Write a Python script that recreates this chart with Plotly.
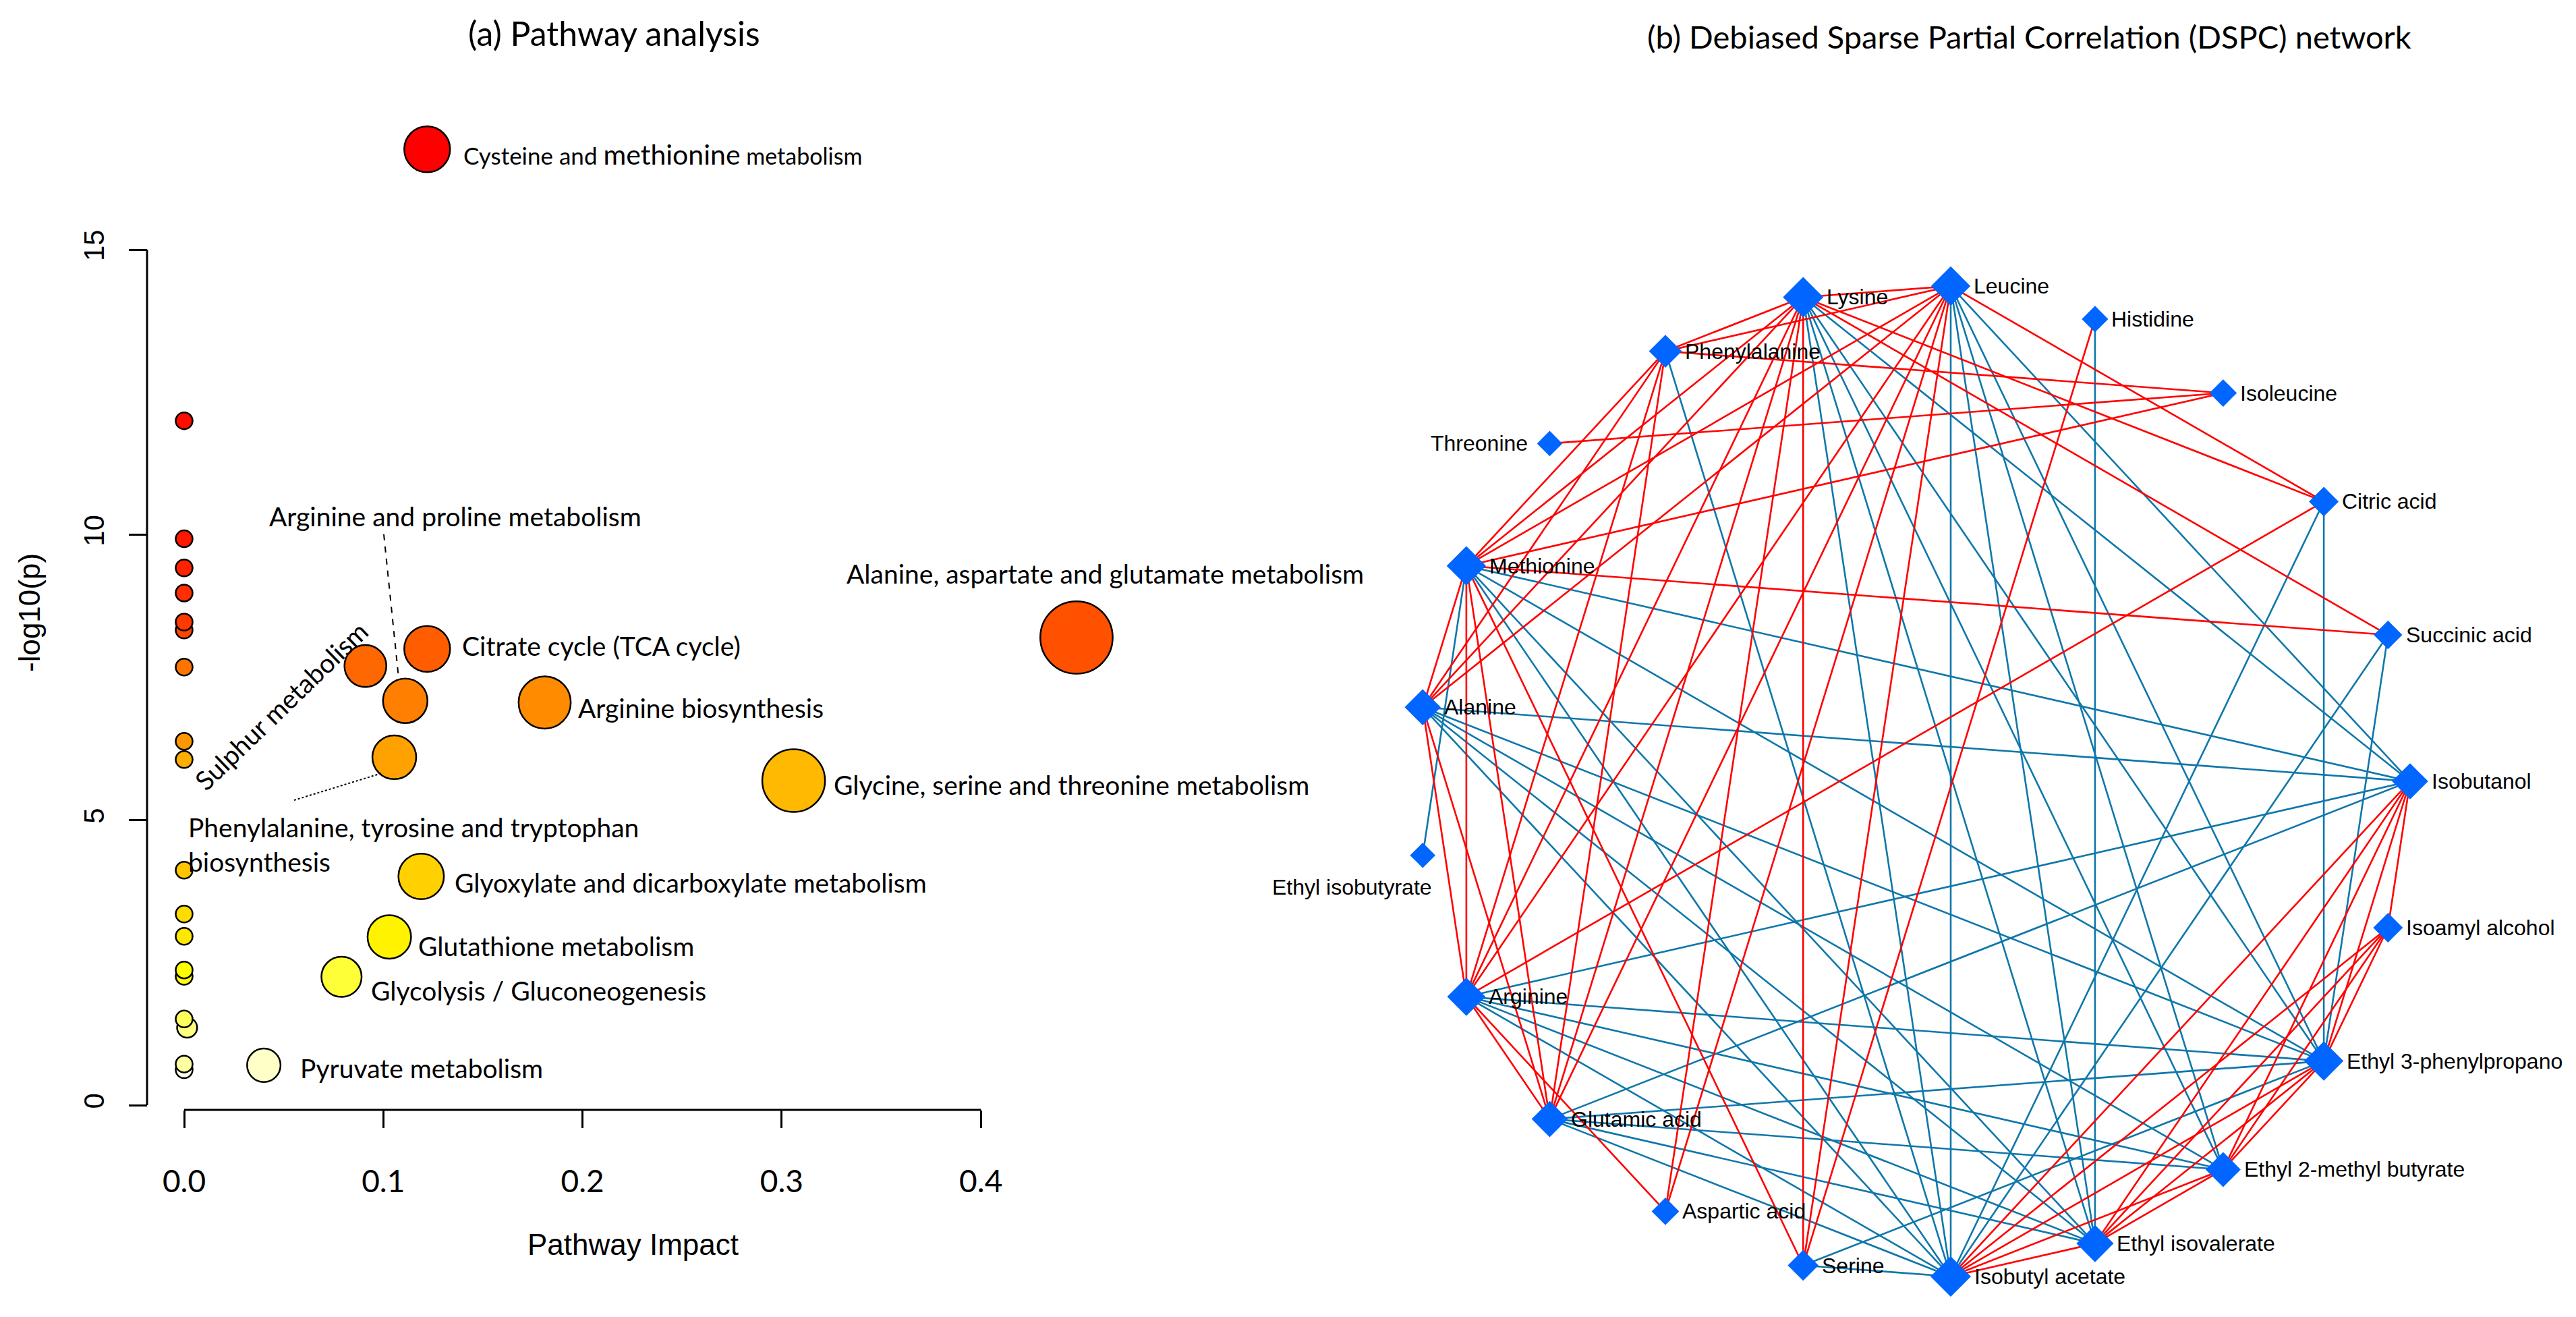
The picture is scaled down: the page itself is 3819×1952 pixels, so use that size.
import numpy as np
import plotly.graph_objects as go

W, H = 3819, 1952

# ---------------- (a) Pathway analysis : data ----------------
pathway = ["Cysteine and methionine metabolism", "", "", "", "", "", "",
           "Alanine, aspartate and glutamate metabolism", "Citrate cycle (TCA cycle)",
           "Sulphur metabolism", "", "Arginine and proline metabolism", "Arginine biosynthesis",
           "", "Phenylalanine, tyrosine and tryptophan biosynthesis", "",
           "Glycine, serine and threonine metabolism", "",
           "Glyoxylate and dicarboxylate metabolism", "", "", "Glutathione metabolism",
           "", "", "Glycolysis / Gluconeogenesis", "", "", "", "Pyruvate metabolism", ""]
impact = [0.122, 0.0, 0.0, 0.0, 0.0, 0.0, 0.0, 0.448, 0.122, 0.091, 0.0, 0.111, 0.181,
          0.0, 0.1055, 0.0, 0.306, 0.0, 0.119, 0.0, 0.0, 0.103, 0.0, 0.0, 0.079,
          0.0, 0.0015, 0.0, 0.040, 0.0]
neglogp = [16.76, 12.0, 9.93, 9.42, 8.98, 8.47, 8.33, 8.20, 8.00, 7.70, 7.68, 7.09, 7.06,
           6.38, 6.10, 6.06, 5.69, 4.12, 4.01, 3.35, 2.96, 2.95, 2.37, 2.26, 2.25,
           1.51, 1.36, 0.72, 0.70, 0.62]
x_tickvals = [0.0, 0.1, 0.2, 0.3, 0.4]
x_ticktext = ["0.0", "0.1", "0.2", "0.3", "0.4"]
y_tickvals = [0, 5, 10, 15]

# ---------------- (b) DSPC network : data ----------------
nodes = ["Isobutanol", "Succinic acid", "Citric acid", "Isoleucine", "Histidine", "Leucine",
         "Lysine", "Phenylalanine", "Threonine", "Methionine", "Alanine", "Ethyl isobutyrate",
         "Arginine", "Glutamic acid", "Aspartic acid", "Serine", "Isobutyl acetate",
         "Ethyl isovalerate", "Ethyl 2-methyl butyrate", "Ethyl 3-phenylpropano",
         "Isoamyl alcohol"]

positive_edges = [
    ("Isobutanol", "Isoamyl alcohol"), ("Isobutanol", "Ethyl 3-phenylpropano"),
    ("Isobutanol", "Ethyl 2-methyl butyrate"), ("Isobutanol", "Ethyl isovalerate"),
    ("Isobutanol", "Isobutyl acetate"),
    ("Isoamyl alcohol", "Ethyl 3-phenylpropano"), ("Isoamyl alcohol", "Ethyl 2-methyl butyrate"),
    ("Isoamyl alcohol", "Ethyl isovalerate"), ("Isoamyl alcohol", "Isobutyl acetate"),
    ("Ethyl 3-phenylpropano", "Ethyl 2-methyl butyrate"), ("Ethyl 3-phenylpropano", "Ethyl isovalerate"),
    ("Ethyl 3-phenylpropano", "Isobutyl acetate"),
    ("Ethyl 2-methyl butyrate", "Ethyl isovalerate"), ("Ethyl 2-methyl butyrate", "Isobutyl acetate"),
    ("Ethyl isovalerate", "Isobutyl acetate"),
    ("Leucine", "Lysine"), ("Leucine", "Phenylalanine"), ("Leucine", "Methionine"),
    ("Leucine", "Alanine"), ("Leucine", "Arginine"), ("Leucine", "Glutamic acid"),
    ("Lysine", "Phenylalanine"), ("Lysine", "Methionine"), ("Lysine", "Alanine"),
    ("Lysine", "Arginine"), ("Lysine", "Glutamic acid"),
    ("Phenylalanine", "Methionine"), ("Phenylalanine", "Alanine"), ("Phenylalanine", "Arginine"),
    ("Phenylalanine", "Glutamic acid"),
    ("Methionine", "Alanine"), ("Methionine", "Arginine"), ("Methionine", "Glutamic acid"),
    ("Alanine", "Arginine"), ("Alanine", "Glutamic acid"), ("Arginine", "Glutamic acid"),
    ("Isoleucine", "Phenylalanine"), ("Isoleucine", "Threonine"), ("Isoleucine", "Methionine"),
    ("Citric acid", "Leucine"), ("Citric acid", "Lysine"), ("Citric acid", "Arginine"),
    ("Succinic acid", "Lysine"), ("Succinic acid", "Methionine"),
    ("Histidine", "Serine"), ("Serine", "Lysine"), ("Serine", "Leucine"), ("Serine", "Methionine"),
    ("Aspartic acid", "Arginine"), ("Aspartic acid", "Leucine"), ("Aspartic acid", "Lysine"),
]

negative_edges = [
    ("Leucine", "Isobutyl acetate"), ("Leucine", "Ethyl isovalerate"),
    ("Leucine", "Ethyl 2-methyl butyrate"), ("Leucine", "Ethyl 3-phenylpropano"), ("Leucine", "Isobutanol"),
    ("Lysine", "Isobutyl acetate"), ("Lysine", "Ethyl isovalerate"),
    ("Lysine", "Ethyl 2-methyl butyrate"), ("Lysine", "Ethyl 3-phenylpropano"), ("Lysine", "Isobutanol"),
    ("Methionine", "Isobutanol"), ("Methionine", "Ethyl 3-phenylpropano"),
    ("Methionine", "Ethyl isovalerate"), ("Methionine", "Isobutyl acetate"),
    ("Methionine", "Ethyl isobutyrate"),
    ("Alanine", "Isobutanol"), ("Alanine", "Ethyl 3-phenylpropano"), ("Alanine", "Ethyl 2-methyl butyrate"),
    ("Alanine", "Ethyl isovalerate"), ("Alanine", "Isobutyl acetate"),
    ("Arginine", "Isobutanol"), ("Arginine", "Ethyl 3-phenylpropano"), ("Arginine", "Ethyl 2-methyl butyrate"),
    ("Arginine", "Ethyl isovalerate"), ("Arginine", "Isobutyl acetate"),
    ("Glutamic acid", "Isobutanol"), ("Glutamic acid", "Ethyl 3-phenylpropano"),
    ("Glutamic acid", "Ethyl 2-methyl butyrate"), ("Glutamic acid", "Ethyl isovalerate"),
    ("Glutamic acid", "Isobutyl acetate"),
    ("Phenylalanine", "Isobutyl acetate"),
    ("Serine", "Isobutyl acetate"), ("Serine", "Ethyl 3-phenylpropano"),
    ("Citric acid", "Ethyl 3-phenylpropano"), ("Citric acid", "Isobutyl acetate"),
    ("Succinic acid", "Ethyl 3-phenylpropano"), ("Succinic acid", "Isobutyl acetate"),
    ("Histidine", "Ethyl isovalerate"),
]

# ---------------- styling / geometry ----------------
LABEL_FONT = "Lato, Carlito, Calibri, sans-serif"
ARIAL = "Liberation Sans, Arial, sans-serif"
RED, BLUE, NODE = "#ff0000", "#0f77aa", "#0066ff"

# pixel frame of the pathway plot: x=0 at 273px, 2953 px per unit; y=0 at 1638px, 84.53 px per unit
X0_PX, X_PER = 273, 2953
Y0_PX, Y_PER = 1638, 84.53
YAXIS_LINE_X, XAXIS_LINE_Y = 218, 1645
XR = (-0.05, 0.55)
YR = (-0.5, 18.0)


def px(X):
    return X / W


def py(Y):
    return 1 - Y / H


fig = go.Figure()

# ---- pathway bubbles ----
n = len(neglogp)
order = np.argsort(-np.array(neglogp), kind="stable")
rank = np.empty(n, int)
rank[order] = np.arange(n)
j = n // 4
i_hue = n - j
sats = np.linspace(1 - 1 / (2 * j), 1 / (2 * j), j)


def heat_color(r):
    if r < i_hue:
        g = round(255 * r / (i_hue - 1))
        return f"rgb(255,{g},0)"
    s = sats[r - i_hue]
    return f"rgb(255,255,{round(255 * (1 - s))})"


colors = [heat_color(r) for r in rank]
diam = [25 + 123 * np.sqrt(v) for v in impact]

draw = list(order[::-1])  # draw low p first
fig.add_trace(go.Scatter(
    x=[impact[k] for k in draw], y=[neglogp[k] for k in draw], mode="markers",
    marker=dict(size=[diam[k] for k in draw], color=[colors[k] for k in draw],
                line=dict(color="black", width=2.5), opacity=1),
    cliponaxis=False, hoverinfo="skip", showlegend=False, xaxis="x", yaxis="y"))

# label placement (pixel offsets from the bubble centre)
label_place = {
    "Cysteine and methionine metabolism": dict(dx=52, dy=-7),
    "Citrate cycle (TCA cycle)": dict(dx=50, dy=5),
    "Arginine biosynthesis": dict(dx=48, dy=-8),
    "Alanine, aspartate and glutamate metabolism": dict(dx=-343, dy=95),
    "Glycine, serine and threonine metabolism": dict(dx=57, dy=-6),
    "Arginine and proline metabolism": dict(dx=-204, dy=274),
    "Sulphur metabolism": dict(dx=-125, dy=-59, angle=-44, anchor="center"),
    "Phenylalanine, tyrosine and tryptophan biosynthesis": dict(dx=-308, dy=-129),
    "Glyoxylate and dicarboxylate metabolism": dict(dx=48, dy=-9),
    "Glutathione metabolism": dict(dx=41, dy=-13),
    "Glycolysis / Gluconeogenesis": dict(dx=42, dy=-20),
    "Pyruvate metabolism": dict(dx=52, dy=-4),
}
annotations = []
for name, xv, yv in zip(pathway, impact, neglogp):
    if not name:
        continue
    p = label_place[name]
    text = name
    if name.startswith("Cysteine"):
        text = ("Cysteine and <span style='font-size:41px'>methionine</span>"
                "<span style='font-size:34px'> metabolism</span>")
    if name.startswith("Phenylalanine"):
        text = "Phenylalanine, tyrosine and tryptophan<br>biosynthesis"
    annotations.append(dict(
        x=xv, y=yv, xref="x", yref="y", text=text, showarrow=False,
        xanchor=p.get("anchor", "left"), yanchor="middle", align="left",
        xshift=p["dx"], yshift=p["dy"], textangle=p.get("angle", 0),
        font=dict(family=LABEL_FONT, size=35 if name.startswith("Cysteine") else 39, color="black")))

shapes = [
    # R-style axis lines spanning only the tick range
    dict(type="line", xref="x", yref="paper", x0=x_tickvals[0], x1=x_tickvals[-1],
         y0=py(XAXIS_LINE_Y), y1=py(XAXIS_LINE_Y), line=dict(color="black", width=3)),
    dict(type="line", xref="paper", yref="y", x0=px(YAXIS_LINE_X), x1=px(YAXIS_LINE_X),
         y0=y_tickvals[0], y1=y_tickvals[-1], line=dict(color="black", width=3)),
    # leader lines
    dict(type="line", xref="paper", yref="paper", x0=px(569), y0=py(792), x1=px(591), y1=py(1005),
         line=dict(color="black", width=2, dash="dash")),
    dict(type="line", xref="paper", yref="paper", x0=px(436), y0=py(1186), x1=px(566), y1=py(1146),
         line=dict(color="black", width=2, dash="dot")),
]

# titles and axis titles
annotations += [
    dict(x=px(910), y=py(49), xref="paper", yref="paper", text="(a) Pathway analysis",
         showarrow=False, font=dict(family=LABEL_FONT, size=50, color="black"),
         xanchor="center", yanchor="middle"),
    dict(x=px(3008), y=py(54), xref="paper", yref="paper",
         text="(b) Debiased Sparse Partial Correlation (DSPC) network",
         showarrow=False, font=dict(family=LABEL_FONT, size=47, color="black"),
         xanchor="center", yanchor="middle"),
    dict(x=px(938), y=py(1844), xref="paper", yref="paper", text="Pathway Impact",
         showarrow=False, font=dict(family=ARIAL, size=44, color="black"),
         xanchor="center", yanchor="middle"),
    dict(x=px(43), y=py(908), xref="paper", yref="paper", text="-log10(p)", textangle=-90,
         showarrow=False, font=dict(family=ARIAL, size=44, color="black"),
         xanchor="center", yanchor="middle"),
]

# ---- network ----
idx = {name: k for k, name in enumerate(nodes)}
theta = 2 * np.pi * np.arange(len(nodes)) / len(nodes)
nx, ny = np.cos(theta), np.sin(theta)

degree = np.zeros(len(nodes))
for a, b in positive_edges + negative_edges:
    degree[idx[a]] += 1
    degree[idx[b]] += 1


def edge_xy(edges):
    xs, ys = [], []
    for a, b in edges:
        xs += [nx[idx[a]], nx[idx[b]], None]
        ys += [ny[idx[a]], ny[idx[b]], None]
    return xs, ys


ex, ey = edge_xy(negative_edges)
fig.add_trace(go.Scatter(x=ex, y=ey, mode="lines", line=dict(color=BLUE, width=2.6),
                         hoverinfo="skip", showlegend=False, xaxis="x2", yaxis="y2"))
ex, ey = edge_xy(positive_edges)
fig.add_trace(go.Scatter(x=ex, y=ey, mode="lines", line=dict(color=RED, width=2.6),
                         hoverinfo="skip", showlegend=False, xaxis="x2", yaxis="y2"))

node_w = 36 + 1.6 * degree          # diamond width in px
fig.add_trace(go.Scatter(x=nx, y=ny, mode="markers",
                         marker=dict(symbol="diamond", size=node_w / 1.3, color=NODE,
                                     opacity=1, line=dict(width=0)),
                         hoverinfo="skip", showlegend=False, xaxis="x2", yaxis="y2", cliponaxis=False))

for k, name in enumerate(nodes):
    hw = node_w[k] / 2
    if name == "Threonine":
        a = dict(xanchor="right", xshift=-(hw + 12), yshift=0)
    elif name == "Ethyl isobutyrate":
        a = dict(xanchor="right", xshift=16, yshift=-47)
    else:
        a = dict(xanchor="left", xshift=hw + 3, yshift=0)
    annotations.append(dict(x=nx[k], y=ny[k], xref="x2", yref="y2", text=name, showarrow=False,
                            yanchor="middle", font=dict(family=ARIAL, size=32, color="black"), **a))

NET_CX, NET_CY, NET_R = 2837, 1158, 736
xd = (0.5, 1.0)

fig.update_layout(
    width=W, height=H, margin=dict(l=0, r=0, t=0, b=0, pad=0, autoexpand=False),
    paper_bgcolor="white", plot_bgcolor="white", showlegend=False,
    xaxis=dict(domain=[px(X0_PX + XR[0] * X_PER), px(X0_PX + XR[1] * X_PER)], range=list(XR),
               tickvals=x_tickvals, ticktext=x_ticktext, ticks="outside", ticklen=26, tickwidth=3,
               tickcolor="black", showline=False, showgrid=False, zeroline=False,
               anchor="free", position=py(XAXIS_LINE_Y), ticklabelstandoff=40,
               tickfont=dict(family=LABEL_FONT, size=46, color="black")),
    yaxis=dict(domain=[py(Y0_PX - YR[0] * Y_PER), py(Y0_PX - YR[1] * Y_PER)], range=list(YR),
               tickvals=y_tickvals, ticks="outside", ticklen=27, tickwidth=3, tickcolor="black",
               showline=False, showgrid=False, zeroline=False,
               anchor="free", position=px(YAXIS_LINE_X), tickangle=-90, ticklabelstandoff=20,
               tickfont=dict(family=ARIAL, size=42, color="black")),
    xaxis2=dict(domain=list(xd), range=[-(NET_CX - xd[0] * W) / NET_R, (xd[1] * W - NET_CX) / NET_R],
                visible=False, anchor="y2"),
    yaxis2=dict(domain=[0, 1], range=[-(H - NET_CY) / NET_R, NET_CY / NET_R],
                visible=False, anchor="x2"),
    annotations=annotations, shapes=shapes,
)

fig.write_html("out.html", config={"displayModeBar": False},
               post_script="document.body.style.margin='0';document.body.style.overflow='hidden';")
